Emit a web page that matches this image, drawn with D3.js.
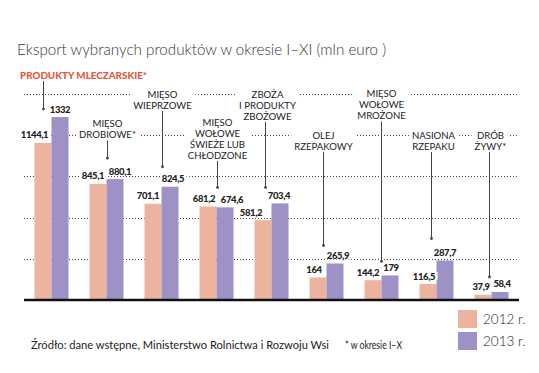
<!DOCTYPE html>
<html><head><meta charset="utf-8">
<script src="https://cdn.jsdelivr.net/npm/d3@7"></script>
<style>
html,body{margin:0;padding:0;background:#fff;}
svg{display:block;}
</style></head>
<body>
<svg id="c" width="539" height="373"></svg>
<script>
// ---- data ----
const categories = [
  "PRODUKTY MLECZARSKIE*",
  "MIĘSO\nDROBIOWE*",
  "MIĘSO\nWIEPRZOWE",
  "MIĘSO\nWOŁOWE\nŚWIEŻE LUB\nCHŁODZONE",
  "ZBOŻA\nI PRODUKTY\nZBOŻOWE",
  "OLEJ\nRZEPAKOWY",
  "MIĘSO\nWOŁOWE\nMROŻONE",
  "NASIONA\nRZEPAKU",
  "DRÓB\nŻYWY*"
];
const values2012 = [1144.1, 845.1, 701.1, 681.2, 581.2, 164, 144.2, 116.5, 37.9];
const values2013 = [1332, 880.1, 824.5, 674.6, 703.4, 265.9, 179, 287.7, 58.4];
const seriesNames = ["2012 r.", "2013 r."];
const yTicks = [300, 600, 900, 1200, 1500];
const titleText = "Eksport wybranych produktów w okresie I–XI (mln euro )";
const sourceText = "Źródło: dane wstępne, Ministerstwo Rolnictwa i Rozwoju Wsi";
const noteText = "* w okresie I–X";

// ---- layout (not data) ----
const colors = ["#ecb49f", "#9d91c6"];
const annLayout = [ // arrow dx from group center, first line center y, arrow tip offset above top value
  {dx:-9, ty:75, tip:-8},
  {dx:0, ty:123.5, tip:-21},
  {dx:0, ty:94, tip:-20},
  {dx:0, ty:122, tip:-19},
  {dx:-7, ty:94, tip:-16, tdx:2},
  {dx:-4, ty:135, tip:-18},
  {dx:-1, ty:93.5, tip:-14},
  {dx:-6, ty:135, tip:-22, tdx:2},
  {dx:-3, ty:135, tip:-15, tdx:1}
];
const lab12dx = [-8.5, -5, -5, -4, -12, -4, -5, -4, -2];
const lab13dx = [0, 5, 3, 7, -1, 3, 1, 0, 2];

const svg = d3.select("#c");
const x = d3.scaleBand().domain(d3.range(categories.length)).range([24, 519]).paddingInner(0.382).paddingOuter(0.191);
const xs = d3.scaleBand().domain([0,1]).range([0, x.bandwidth()]);
const y = d3.scaleLinear().domain([0, 1500]).range([300, 94]);
const fmt = v => String(v).replace(".", ",");
const FF = "Lato, 'Open Sans', sans-serif";

// title
svg.append("text").attr("x", 17).attr("y", 55).text(titleText)
  .attr("font-family", FF).attr("font-weight", 300)
  .attr("font-size", 15.2).attr("fill", "#333");

// gridlines
svg.append("g").selectAll("line").data(yTicks).join("line")
  .attr("x1", 24).attr("x2", 519).attr("y1", d => Math.round(y(d)) + 0.5).attr("y2", d => Math.round(y(d)) + 0.5)
  .attr("stroke", "#444").attr("stroke-width", 1).attr("stroke-dasharray", "1,2");

// bars
const g = svg.append("g");
categories.forEach((c, i) => {
  [values2012[i], values2013[i]].forEach((v, s) => {
    g.append("rect").attr("x", x(i) + xs(s)).attr("width", xs.bandwidth())
      .attr("y", y(v)).attr("height", y(0) - y(v)).attr("fill", colors[s]);
  });
});

// baseline axis
svg.append("line").attr("x1", 24).attr("x2", 519).attr("y1", 300).attr("y2", 300)
  .attr("stroke", "#111").attr("stroke-width", 2.6);

// value labels with white backing
const labG = svg.append("g");
function valueLabel(xc, yb, txt) {
  const t = labG.append("text").attr("x", xc).attr("y", yb).attr("text-anchor", "middle")
    .attr("font-family", FF).attr("font-weight", 900)
    .attr("font-size", 9.5).attr("letter-spacing", -0.4).attr("fill", "#222").text(txt);
  const b = t.node().getBBox();
  labG.insert("rect", () => t.node()).attr("x", b.x - 1.5).attr("y", b.y + 1.5).attr("width", b.width + 3).attr("height", b.height - 3).attr("fill", "#fff");
}
categories.forEach((c, i) => {
  const v1 = values2012[i], v2 = values2013[i];
  valueLabel(x(i) + xs(0) + xs.bandwidth() / 2 + lab12dx[i], y(v1) - 4.5, fmt(v1));
  valueLabel(x(i) + xs(1) + xs.bandwidth() / 2 + lab13dx[i], y(v2) - 4.5, fmt(v2));
});

// annotations
const annG = svg.append("g");
categories.forEach((c, i) => {
  const L = annLayout[i];
  const cx = x(i) + x.bandwidth() / 2;
  const ax = Math.round(cx + L.dx) + 0.5;
  const lines = c.split("\n");
  const grp = annG.append("g");
  let lastY;
  if (i === 0) {
    grp.append("text").attr("x", 20).attr("y", L.ty + 3.5).text(c)
      .attr("font-family", FF).attr("font-weight", 900)
      .attr("font-size", 9.8).attr("textLength", 127).attr("lengthAdjust", "spacingAndGlyphs")
      .attr("fill", "#e2573d");
    lastY = L.ty;
  } else {
    lines.forEach((ln, k) => {
      grp.append("text").attr("x", ax + (L.tdx || 0)).attr("y", L.ty + k * 11 + 3.5).attr("text-anchor", "middle")
        .attr("font-family", FF).attr("font-weight", 400)
        .attr("font-size", 9.6).attr("fill", "#222").text(ln);
      lastY = L.ty + k * 11;
    });
    const b = grp.node().getBBox();
    grp.insert("rect", ":first-child").attr("x", b.x - 3).attr("y", b.y).attr("width", b.width + 6).attr("height", b.height).attr("fill", "#fff");
  }
  const tipY = y(Math.max(values2012[i], values2013[i])) + L.tip;
  annG.append("line").attr("x1", ax).attr("x2", ax).attr("y1", lastY + 6).attr("y2", tipY)
    .attr("stroke", "#444").attr("stroke-width", 1);
  annG.append("circle").attr("cx", ax).attr("cy", tipY).attr("r", 1.4).attr("fill", "#444");
});

// source
svg.append("text").attr("x", 31).attr("y", 349).text(sourceText)
  .attr("font-family", FF).attr("font-size", 10.8).attr("fill", "#222")
  .attr("textLength", 298).attr("lengthAdjust", "spacingAndGlyphs");
svg.append("text").attr("x", 345).attr("y", 349).text(noteText)
  .attr("font-family", FF).attr("font-size", 10.8).attr("fill", "#222")
  .attr("textLength", 57).attr("lengthAdjust", "spacingAndGlyphs");

// legend
const leg = svg.append("g");
seriesNames.forEach((n, s) => {
  leg.append("rect").attr("x", 458).attr("y", 310 + s * 22).attr("width", 19).attr("height", 18).attr("fill", colors[s]);
  leg.append("text").attr("x", 483).attr("y", 324 + s * 22).text(n)
    .attr("font-family", FF).attr("font-weight", 300)
    .attr("font-size", 13.5).attr("fill", "#222");
});
</script>
</body></html>
